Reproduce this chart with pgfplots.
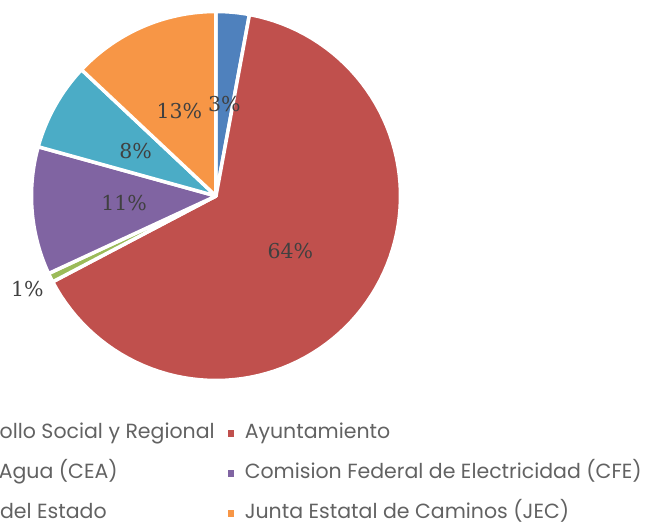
\documentclass[border=0pt]{standalone}
\usepackage{pgfplots}
\pgfplotsset{compat=1.18}
\usepackage{pgfplotstable}
\usepackage{fontspec}
\setmainfont{Poppins}
\newfontfamily\labelfont{DejaVu Serif}
\definecolor{cBlue}{RGB}{79,129,189}
\definecolor{cRed}{RGB}{192,80,77}
\definecolor{cGreen}{RGB}{155,187,89}
\definecolor{cPurple}{RGB}{128,100,162}
\definecolor{cTeal}{RGB}{75,172,198}
\definecolor{cOrange}{RGB}{247,150,70}
\definecolor{txtgray}{RGB}{98,98,98}
\definecolor{lblgray}{RGB}{64,64,64}

\pgfplotstableread[col sep=comma]{
name,value,col,lr,pad
Secretaria de Desarrollo Social y Regional,2.9,cBlue,0.5,5
Ayuntamiento,64.4,cRed,0.5,0
Comision Estatal del Agua (CEA),0.8,cGreen,1.14,0
Comision Federal de Electricidad (CFE),11.2,cPurple,0.5,0
Secretaria de Salud del Estado,7.7,cTeal,0.5,9
Junta Estatal de Caminos (JEC),13.0,cOrange,0.5,0
}\piedata

\begin{document}
\begin{tikzpicture}
\useasboundingbox (0,0) rectangle (645pt,523pt);
\begin{axis}[
  at={(216pt,327pt)}, anchor=center,
  x=184.5pt, y=184.5pt, xmin=-1, xmax=1, ymin=-1, ymax=1,
  hide axis, clip=false, scale only axis,
  legend columns=2,
  legend cell align=left,
  legend image code/.code={\fill[#1, draw=none] (0pt,-3.25pt) rectangle (6.5pt,3.25pt); \path[draw=none, fill=none] (0pt,0pt) -- (16pt,0pt);},
  legend style={draw=none, fill=none, text=txtgray,
    font=\fontsize{20.5}{24}\selectfont,
    at={(axis cs:2.33,-1.217)}, anchor=north east,
    nodes={text height=15pt, text depth=5pt, inner sep=1pt},
    row sep=18pt,
    /tikz/every even column/.append style={column sep=12pt}},
]
\gdef\cum{0}
\pgfplotsforeachungrouped \i in {0,...,5}{
  \pgfplotstablegetelem{\i}{value}\of\piedata \let\pval=\pgfplotsretval
  \pgfplotstablegetelem{\i}{col}\of\piedata \let\pcol=\pgfplotsretval
  \pgfplotstablegetelem{\i}{name}\of\piedata \let\pname=\pgfplotsretval
  \pgfplotstablegetelem{\i}{pad}\of\piedata \let\ppad=\pgfplotsretval
  \pgfmathsetmacro{\aa}{90-3.6*\cum}
  \pgfmathsetmacro{\bb}{90-3.6*(\cum+\pval)}
  \edef\cmd{\noexpand\addplot[fill=\pcol, draw=white, line width=3.5pt, line join=round, domain=\bb:\aa, samples=90] ({cos(x)},{sin(x)}) -- (axis cs:0,0) -- cycle;
    \noexpand\addlegendentry{\noexpand\hspace*{\ppad pt}\pname}}
  \cmd
  \pgfmathsetmacro{\newcum}{\cum+\pval}
  \xdef\cum{\newcum}
}
\gdef\cum{0}
\pgfplotsforeachungrouped \i in {0,...,5}{
  \pgfplotstablegetelem{\i}{value}\of\piedata \let\pval=\pgfplotsretval
  \pgfplotstablegetelem{\i}{lr}\of\piedata \let\plr=\pgfplotsretval
  \pgfmathsetmacro{\mm}{90-3.6*(\cum+\pval/2)}
  \pgfmathsetmacro{\lx}{\plr*cos(\mm)}
  \pgfmathsetmacro{\ly}{\plr*sin(\mm)}
  \pgfmathtruncatemacro{\pr}{round(\pval)}
  \edef\cmd{\noexpand\node[font=\noexpand\labelfont\noexpand\fontsize{20.5}{24}\noexpand\selectfont, text=lblgray] at (axis cs:\lx,\ly) {\pr\noexpand\%};}
  \cmd
  \pgfmathsetmacro{\newcum}{\cum+\pval}
  \xdef\cum{\newcum}
}
\end{axis}
\end{tikzpicture}
\end{document}
